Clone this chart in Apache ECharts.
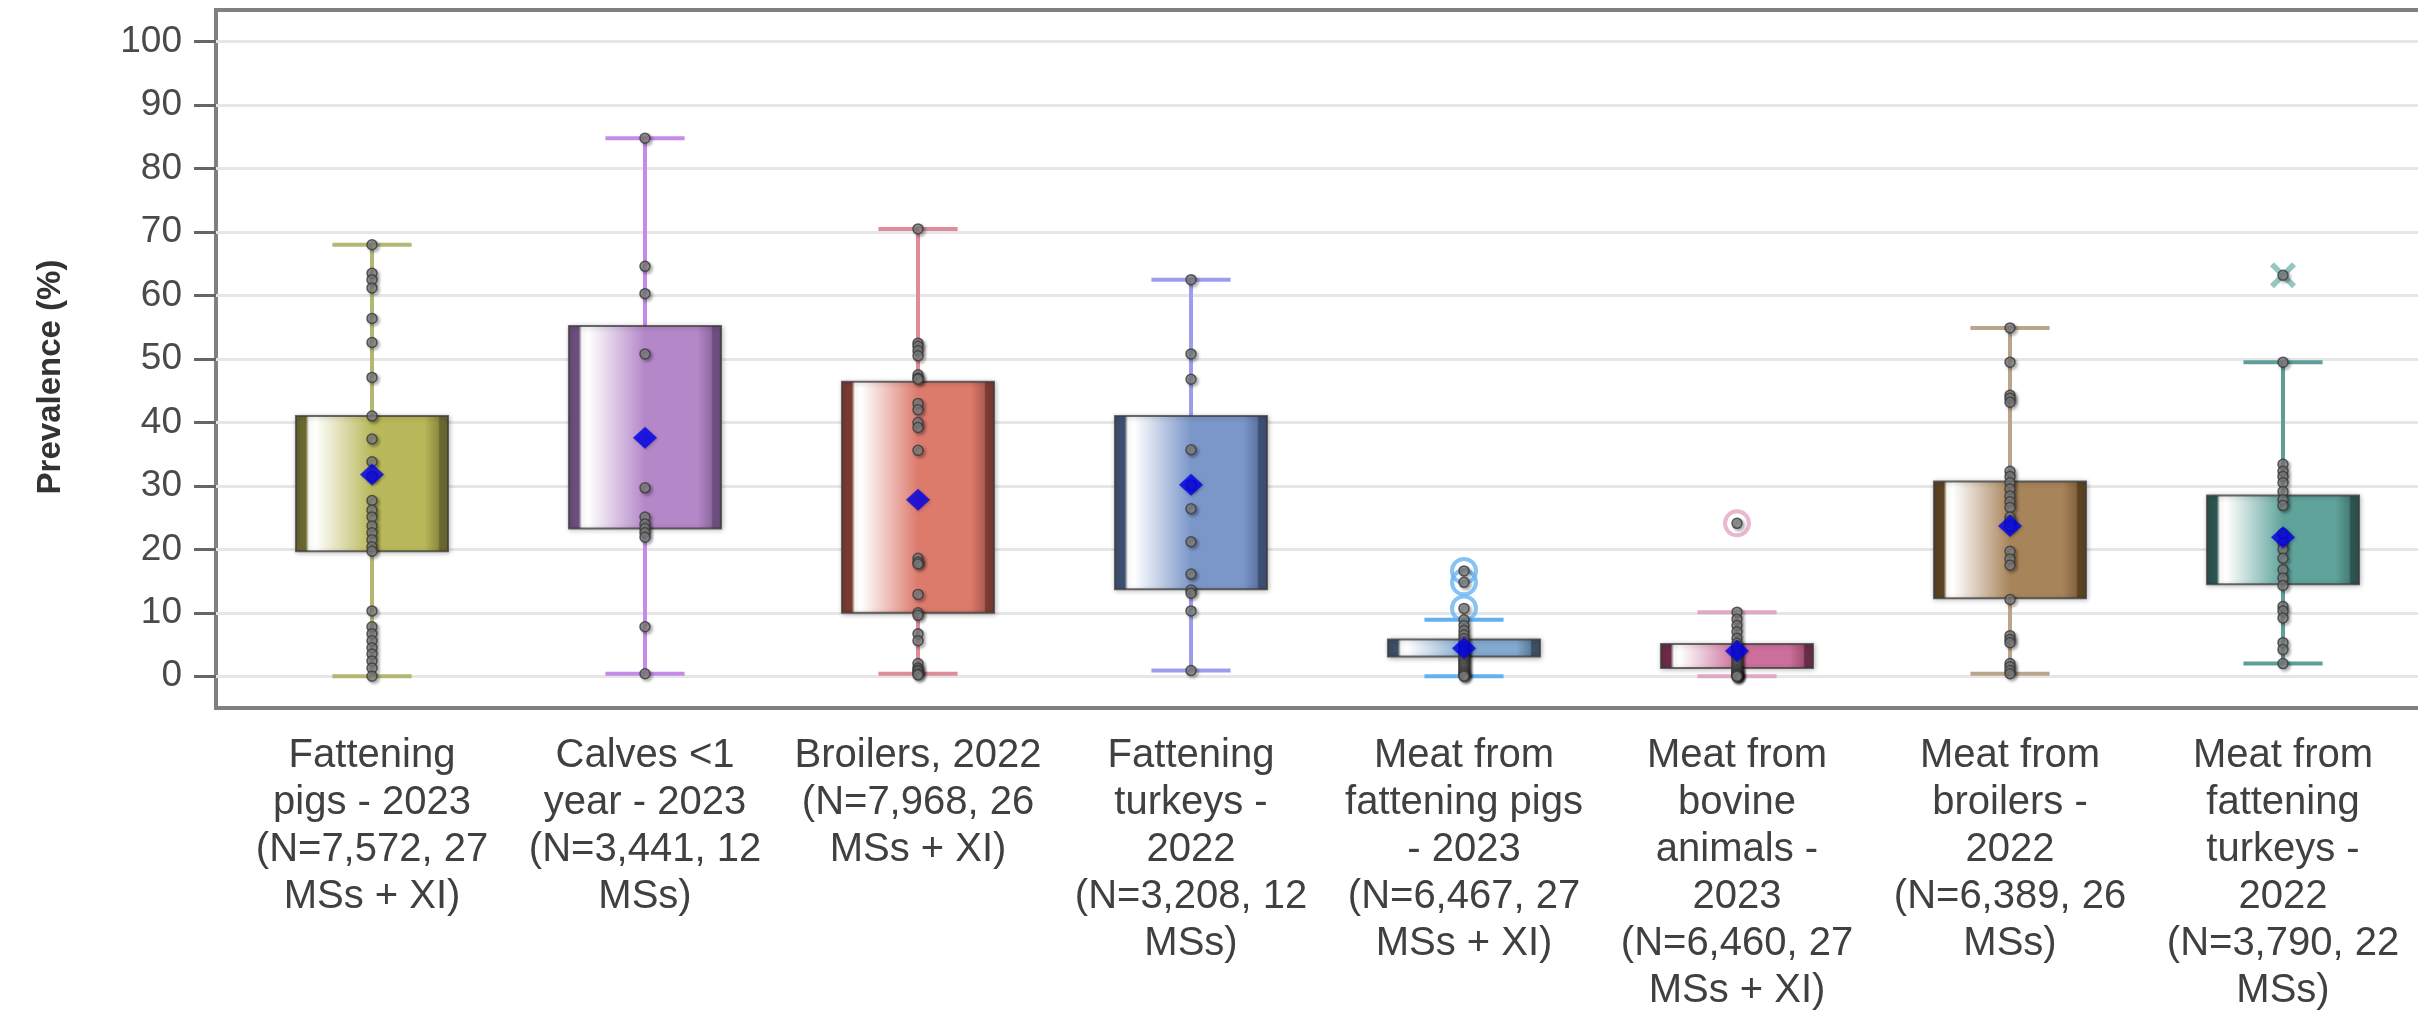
<!DOCTYPE html>
<html><head><meta charset="utf-8">
<script src="https://cdn.jsdelivr.net/npm/echarts@6/dist/echarts.min.js"></script>
<style>html,body{margin:0;padding:0;background:#fff;overflow:hidden}#c{width:2418px;height:1015px}</style>
</head><body><div id="c"></div>
<script>
// ---------- DATA ----------
const categories = [
  'Fattening\npigs - 2023\n(N=7,572, 27\nMSs + XI)',
  'Calves <1\nyear - 2023\n(N=3,441, 12\nMSs)',
  'Broilers, 2022\n(N=7,968, 26\nMSs + XI)',
  'Fattening\nturkeys -\n2022\n(N=3,208, 12\nMSs)',
  'Meat from\nfattening pigs\n- 2023\n(N=6,467, 27\nMSs + XI)',
  'Meat from\nbovine\nanimals -\n2023\n(N=6,460, 27\nMSs + XI)',
  'Meat from\nbroilers -\n2022\n(N=6,389, 26\nMSs)',
  'Meat from\nfattening\nturkeys -\n2022\n(N=3,790, 22\nMSs)'
];
const yTicks = [0, 10, 20, 30, 40, 50, 60, 70, 80, 90, 100];
const whiskerLow  = [0.0, 0.4, 0.4, 0.9, 0.0, 0.0, 0.4, 2.0];
const q1          = [19.7, 23.3, 10.0, 13.7, 3.1, 1.3, 12.3, 14.5];
const q3          = [41.0, 55.2, 46.4, 41.0, 5.8, 5.1, 30.7, 28.5];
const whiskerHigh = [68.0, 84.8, 70.5, 62.5, 8.9, 10.1, 54.9, 49.5];
const means       = [31.8, 37.6, 27.8, 30.2, 4.4, 4.0, 23.7, 21.9];

const pointsFatteningPigs = [68.0, 63.5, 62.5, 61.2, 56.4, 52.6, 47.1, 41.0, 37.4, 33.8, 31.5, 27.7, 26.2, 25.1, 23.7, 22.6, 21.5, 20.4, 19.7, 10.3, 7.8, 6.7, 5.6, 4.5, 3.5, 2.4, 1.3, 0.0];
const pointsCalves = [84.8, 64.6, 60.3, 50.8, 29.7, 25.1, 24.0, 23.3, 22.6, 21.9, 7.8, 0.4];
const pointsBroilers = [70.5, 52.5, 52.0, 51.3, 50.5, 47.5, 47.0, 46.8, 43.0, 42.0, 40.0, 39.2, 35.6, 18.6, 18.0, 17.7, 12.9, 10.0, 9.6, 6.7, 5.6, 2.0, 1.3, 1.0, 0.8, 0.4, 0.2];
const pointsTurkeys = [62.5, 50.8, 46.8, 35.7, 30.2, 26.4, 21.2, 16.1, 13.6, 13.1, 10.3, 0.9];
const pointsMeatPigs = [16.6, 14.8, 10.7, 8.9, 8.0, 7.2, 6.5, 5.9, 5.4, 5.0, 4.6, 4.3, 4.0, 3.7, 3.4, 3.1, 2.8, 2.5, 2.2, 1.9, 1.6, 1.3, 1.0, 0.7, 0.5, 0.3, 0.1, 0.0];
const pointsMeatBovine = [24.1, 10.1, 9.0, 8.0, 7.0, 6.0, 5.2, 4.8, 4.4, 4.0, 3.6, 3.2, 2.8, 2.4, 2.0, 1.7, 1.4, 1.1, 0.9, 0.7, 0.5, 0.4, 0.3, 0.2, 0.1, 0.0, 0.0, 0.0];
const pointsMeatBroilers = [54.9, 49.5, 44.3, 43.8, 43.2, 32.3, 31.5, 30.5, 29.5, 28.4, 27.5, 26.6, 25.1, 24.5, 23.7, 19.7, 18.5, 17.5, 12.1, 6.4, 5.8, 5.3, 2.0, 1.5, 0.9, 0.4];
const pointsMeatTurkeys = [63.2, 49.5, 33.4, 32.3, 31.5, 30.5, 29.1, 27.8, 26.9, 22.5, 21.0, 20.0, 18.6, 16.8, 15.5, 14.3, 11.0, 10.3, 9.2, 5.3, 4.2, 2.0];
const allPoints = [pointsFatteningPigs, pointsCalves, pointsBroilers, pointsTurkeys, pointsMeatPigs, pointsMeatBovine, pointsMeatBroilers, pointsMeatTurkeys];

// outliers: [categoryIndex, value]
const outlierCircleCats = [4, 4, 4, 5];
const outlierCircleVals = [16.6, 14.8, 10.7, 24.1];
const outlierCrossCats = [7];
const outlierCrossVals = [63.2];

// ---------- STYLES ----------
const boxStyles = [
  {base:'#b9b85a', edge:'#696830', dark:'#8e8c40', whisker:'#b3b773'},
  {base:'#b487c8', edge:'#6c4f7e', dark:'#8f6aa2', whisker:'#c58be6'},
  {base:'#dc7a6c', edge:'#7a3c32', dark:'#b05e52', whisker:'#dd8d98'},
  {base:'#7b96c9', edge:'#3e5072', dark:'#5e75a2', whisker:'#9d9df0'},
  {base:'#83a9cf', edge:'#3c5066', dark:'#60809f', whisker:'#62b2f2'},
  {base:'#cc6f9c', edge:'#6a2c48', dark:'#a45278', whisker:'#ddaac2'},
  {base:'#a8845a', edge:'#5c4224', dark:'#856540', whisker:'#bba48c'},
  {base:'#5fa39b', edge:'#2d5450', dark:'#477e78', whisker:'#5e9e98'}
];
const haloColors = {4:'#6ab4f2', 5:'#e0a8c2'};
const FONT = "Arial, 'Liberation Sans', sans-serif";

const boxData = categories.map((c, i) => [i, whiskerLow[i], q1[i], q3[i], whiskerHigh[i]]);
const pointData = [];
allPoints.forEach((arr, i) => arr.forEach(v => pointData.push([i, v])));
const meanData = means.map((m, i) => [i, m]);
const haloData = outlierCircleCats.map((c, k) => ({value:[c, outlierCircleVals[k]], itemStyle:{borderColor: haloColors[c]}}));
const crossData = outlierCrossCats.map((c, k) => [c, outlierCrossVals[k]]);

function renderBox(params, api) {
  const i = api.value(0);
  const pLo = api.coord([i, api.value(1)]);
  const pQ1 = api.coord([i, api.value(2)]);
  const pQ3 = api.coord([i, api.value(3)]);
  const pHi = api.coord([i, api.value(4)]);
  const band = api.size([1, 0])[0];
  const cx = pLo[0];
  const bw = band * 0.557, cw = band * 0.29;
  const st = boxStyles[i];
  const grad = new echarts.graphic.LinearGradient(0, 0, 1, 0, [
    {offset:0, color:st.edge}, {offset:0.07, color:st.edge},
    {offset:0.09, color:'#f6f6f2'}, {offset:0.13, color:'#ffffff'},
    {offset:0.5, color:st.base}, {offset:0.84, color:st.base},
    {offset:0.93, color:st.dark}, {offset:0.94, color:st.edge}, {offset:1, color:st.edge}
  ]);
  return {type:'group', children:[
    {type:'line', shape:{x1:cx, y1:pHi[1], x2:cx, y2:pLo[1]}, style:{stroke:st.whisker, lineWidth:4}},
    {type:'line', shape:{x1:cx-cw/2, y1:pHi[1], x2:cx+cw/2, y2:pHi[1]}, style:{stroke:st.whisker, lineWidth:4}},
    {type:'line', shape:{x1:cx-cw/2, y1:pLo[1], x2:cx+cw/2, y2:pLo[1]}, style:{stroke:st.whisker, lineWidth:4}},
    {type:'rect', shape:{x:cx-bw/2, y:pQ3[1], width:bw, height:pQ1[1]-pQ3[1]},
     style:{fill:grad, stroke:'rgba(60,60,60,0.75)', lineWidth:2, shadowBlur:5, shadowColor:'rgba(0,0,0,0.3)', shadowOffsetX:1, shadowOffsetY:1}}
  ]};
}

const chart = echarts.init(document.getElementById('c'), null, {renderer:'canvas'});
chart.setOption({
  animation:false,
  backgroundColor:'#ffffff',
  grid:[
    {left:235.5, top:10, width:2184, height:698, show:false, outerBoundsMode:'none', containLabel:false},
    {left:216, top:10, width:2300, height:698, show:true, borderColor:'#808080', borderWidth:4, backgroundColor:'#ffffff', outerBoundsMode:'none', containLabel:false}
  ],
  xAxis:[
    {gridIndex:0, type:'category', data:categories, boundaryGap:true,
     axisLine:{show:false}, axisTick:{show:false}, splitLine:{show:false},
     axisLabel:{interval:0, margin:24, fontSize:40, lineHeight:47, color:'#404040', fontFamily:FONT, align:'center'}},
    {gridIndex:1, type:'value', show:false, min:0, max:1}
  ],
  yAxis:[
    {gridIndex:0, type:'value', min:-5, max:105, show:false},
    {gridIndex:1, type:'value', min:-5, max:105,
     name:'Prevalence (%)', nameLocation:'middle', nameRotate:90, nameGap:149,
     nameTextStyle:{fontSize:33, fontWeight:'bold', color:'#333', fontFamily:FONT, padding:[0,36,0,0]},
     axisLine:{show:false},
     axisTick:{show:true, length:22, customValues:yTicks, lineStyle:{color:'#666', width:3}},
     axisLabel:{customValues:yTicks, margin:34, fontSize:37, color:'#4a4a4a', fontFamily:FONT},
     splitLine:{show:true, lineStyle:{color:'#e6e6e6', width:3}}}
  ],
  series:[
    {type:'custom', xAxisIndex:0, yAxisIndex:0, renderItem:renderBox, data:boxData, z:2},
    {type:'scatter', xAxisIndex:0, yAxisIndex:0, data:haloData, symbol:'circle', symbolSize:24, z:3,
     itemStyle:{color:'rgba(255,255,255,0)', borderWidth:4}},
    {type:'scatter', xAxisIndex:0, yAxisIndex:0, data:crossData, z:3, symbolSize:26,
     symbol:'path://M0,1.5 L1.5,0 L5,3.5 L8.5,0 L10,1.5 L6.5,5 L10,8.5 L8.5,10 L5,6.5 L1.5,10 L0,8.5 L3.5,5 Z',
     itemStyle:{color:'#7ab8b0'}},
    {type:'scatter', xAxisIndex:0, yAxisIndex:0, data:pointData, symbol:'circle', symbolSize:10, z:4,
     itemStyle:{color:'#858585', borderColor:'#3a3a3a', borderWidth:1.5, shadowBlur:3, shadowColor:'rgba(0,0,0,0.35)', shadowOffsetX:2, shadowOffsetY:2}},
    {type:'scatter', xAxisIndex:0, yAxisIndex:0, data:meanData, symbol:'diamond', symbolSize:[24,22], z:5,
     itemStyle:{color:'#0000ee', shadowBlur:3, shadowColor:'rgba(0,0,0,0.3)', shadowOffsetX:1, shadowOffsetY:1}}
  ]
});
</script>
</body></html>
